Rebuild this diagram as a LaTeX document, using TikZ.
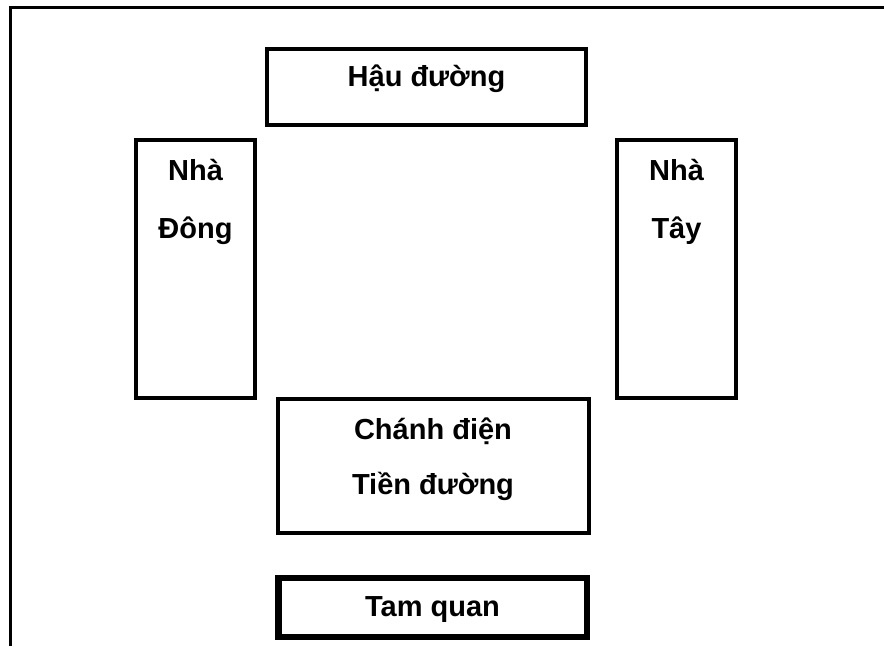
\documentclass[tikz,border=0pt]{standalone}
\usepackage{fontspec}
\setmainfont{Liberation Sans}
\tikzset{
  khung/.style={line width=3pt},
  tuong/.style={line width=4pt},
  tuongday/.style={line width=6.5pt},
  chu/.style={anchor=base, inner sep=0pt, font=\bfseries\fontsize{29}{35}\selectfont}
}
\begin{document}
\begin{tikzpicture}[x=1pt,y=-1pt]
            \useasboundingbox (0,0) rectangle (884,646);

            % Khung ngoai (chi canh tren va canh trai)
            \draw[khung] (10,646) -- (10,7.5) -- (884,7.5);

            % Hau duong
            \draw[tuong] (267,49) rectangle (586,125);
            \node[chu] (hau) at (426.5,86) {Hậu đường};

            % Nha Dong
            \draw[tuong] (135.5,140) rectangle (255,398);
            \node[chu] (nhadong) at (195.5,180) {Nhà};
            \node[chu] (dong) at (195.5,238) {Đông};

            % Nha Tay
            \draw[tuong] (617,140) rectangle (736,398);
            \node[chu] (nhatay) at (676.5,180) {Nhà};
            \node[chu] (tay) at (676.5,238) {Tây};

            % Chanh dien / Tien duong
            \draw[tuong] (278,399) rectangle (589,533);
            \node[chu] (chanh) at (433,439) {Chánh điện};
            \node[chu] (tien) at (433,494) {Tiền đường};

            % Tam quan
            \draw[tuongday] (278.5,578) rectangle (587,637);
            \node[chu] (tamquan) at (432.5,616) {Tam quan};
\end{tikzpicture}
\end{document}
